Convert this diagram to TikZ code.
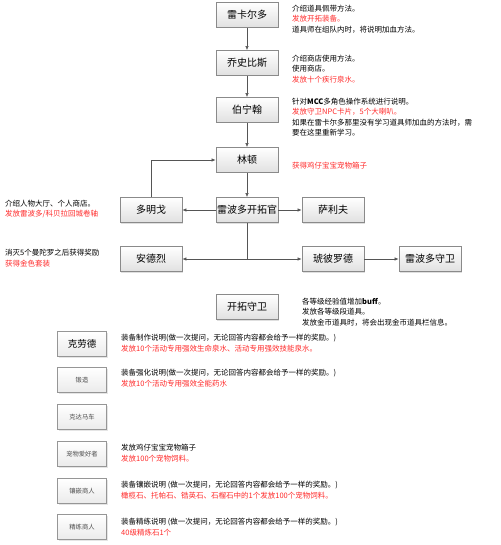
\documentclass[tikz,border=0pt]{standalone}
\usepackage{fontspec}
\setmainfont{Noto Sans CJK SC}
\usetikzlibrary{shadows,arrows.meta}
\definecolor{redtxt}{HTML}{FF2A2A}
\definecolor{linec}{HTML}{555555}
\definecolor{boxb}{HTML}{8A8A8A}
\tikzset{
  mainbox/.style={draw=boxb, line width=0.8pt, top color=white, bottom color=black!12,
    minimum width=62pt, minimum height=25pt, inner sep=1pt, font=\fontsize{10}{12}\selectfont,
    drop shadow={shadow xshift=1pt, shadow yshift=-1pt, fill=black!25}},
  smallbox/.style={draw=boxb!90, line width=1.3pt, top color=white, bottom color=black!8,
    minimum width=49pt, minimum height=25pt, inner sep=1pt, text=black!70, font=\fontsize{6.3}{8}\selectfont,
    drop shadow={shadow xshift=1pt, shadow yshift=-1pt, fill=black!20}},
  note/.style={anchor=west, inner sep=0pt, align=left, font=\fontsize{7.5}{10.5}\selectfont},
  conn/.style={draw=linec, line width=0.6pt, -{Latex[length=4pt,width=3.5pt]}},
  plain/.style={draw=linec, line width=0.6pt}
}
\begin{document}
\begin{tikzpicture}[x=1pt,y=-1pt]
\useasboundingbox (0,0) rectangle (500,545);
% main flow
\node[mainbox] (a) at (247,15) {雷卡尔多};
\node[mainbox] (b) at (247,63) {乔史比斯};
\node[mainbox] (c) at (247,110) {伯宁翰};
\node[mainbox] (d) at (247,160) {林顿};
\node[mainbox] (e) at (247,210) {雷波多开拓官};
\node[mainbox] (f) at (151,210) {多明戈};
\node[mainbox] (g) at (333,210) {萨利夫};
\node[mainbox] (h) at (151,259) {安德烈};
\node[mainbox] (i) at (333,259) {琥彼罗德};
\node[mainbox] (k) at (430,259) {雷波多守卫};
\node[mainbox] (l) at (247,307) {开拓守卫};
\coordinate (j) at (e.south |- h);

\draw[conn] (a) -- (b);
\draw[conn] (b) -- (c);
\draw[conn] (c) -- (d);
\draw[conn] (d) -- (e);
\draw[conn] (f.north) |- (d.west);
\draw[conn] (e) -- (f);
\draw[conn] (e) -- (g);
\draw[plain] (e.south) -- (j);
\draw[conn] (j) -- (h.east);
\draw[conn] (j) -- (i.west);
\draw[conn] (i) -- (k);

% notes
\node[note] (na) at (292,19) {介绍道具佩带方法。\\\textcolor{redtxt}{发放开拓装备。}\\道具师在组队内时，将说明加血方法。};
\node[note] (nb) at (292,69) {介绍商店使用方法。\\使用商店。\\\textcolor{redtxt}{发放十个疾行泉水。}};
\node[note] (nc) at (292,117) {针对\textbf{MCC}多角色操作系统进行说明。\\\textcolor{redtxt}{发放守卫NPC卡片，5个大喇叭。}\\如果在雷卡尔多那里没有学习道具师加血的方法时，需\\要在这里重新学习。};
\node[note, text=redtxt] (nd) at (292,166) {获得鸡仔宝宝宠物箱子};
\node[note] (nf) at (5,209) {介绍人物大厅、个人商店。\\\textcolor{redtxt}{发放雷波多/科贝拉回城卷轴}};
\node[note] (nh) at (5,258) {消灭5个曼陀罗之后获得奖励\\\textcolor{redtxt}{获得金色套装}};
\node[note] (nl) at (302,312) {各等级经验值增加\textbf{buff}。\\发放各等级段道具。\\发放金币道具时，将会出现金币道具栏信息。};

% list
\node[smallbox, text=black, font=\fontsize{9.5}{11}\selectfont] (m1) at (82,344) {克劳德};
\node[smallbox] (m2) at (82,380) {锻造};
\node[smallbox] (m3) at (82,417) {克达马车};
\node[smallbox] (m4) at (82,454) {宠物爱好者};
\node[smallbox] (m5) at (82,491) {镶嵌商人};
\node[smallbox] (m6) at (82,527) {精练商人};

\node[note] (n1) at (121,343) {装备制作说明(做一次提问，无论回答内容都会给予一样的奖励。)\\\textcolor{redtxt}{发放10个活动专用强效生命泉水、活动专用强效技能泉水。}};
\node[note] (n2) at (121,378) {装备强化说明(做一次提问，无论回答内容都会给予一样的奖励。)\\\textcolor{redtxt}{发放10个活动专用强效全能药水}};
\node[note] (n4) at (121,453) {发放鸡仔宝宝宠物箱子\\\textcolor{redtxt}{发放100个宠物饲料。}};
\node[note] (n5) at (121,490) {装备镶嵌说明 (做一次提问，无论回答内容都会给予一样的奖励。)\\\textcolor{redtxt}{橄榄石、托帕石、锆英石、石榴石中的1个发放100个宠物饲料。}};
\node[note] (n6) at (121,527) {装备精练说明 (做一次提问，无论回答内容都会给予一样的奖励。)\\\textcolor{redtxt}{40级精炼石1个}};
\end{tikzpicture}
\end{document}
